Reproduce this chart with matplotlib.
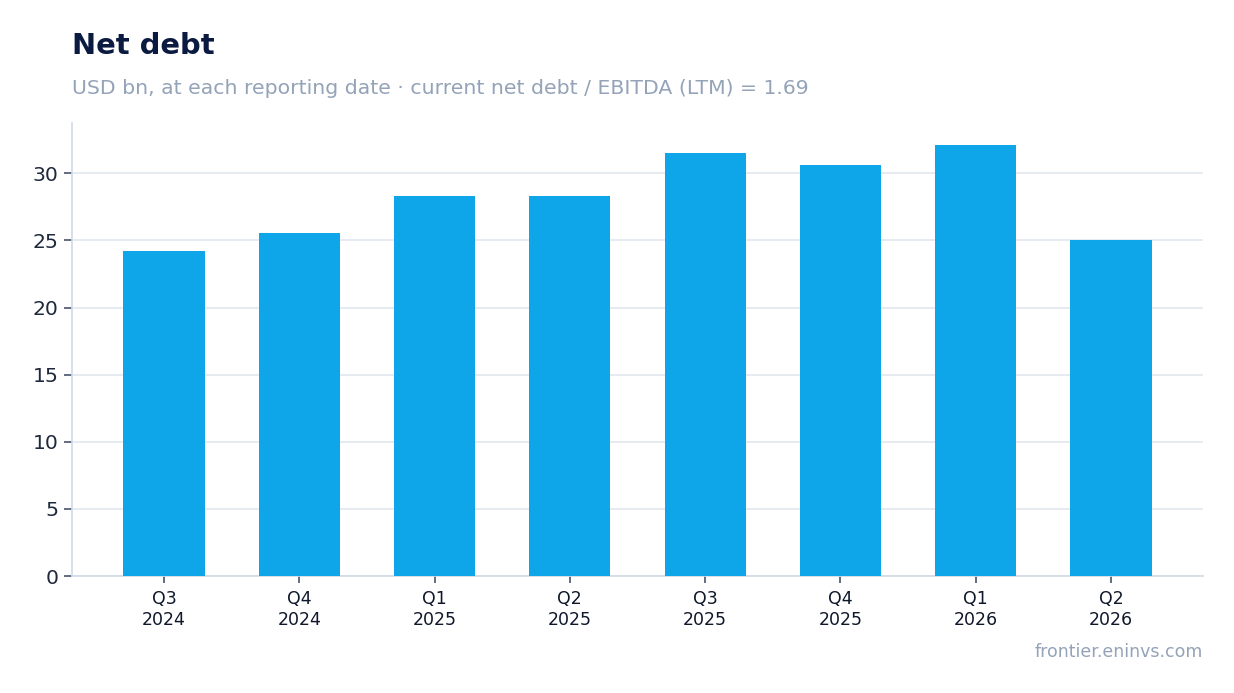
import matplotlib
matplotlib.use("Agg")
import matplotlib.pyplot as plt

categories = ["Q3\n2024", "Q4\n2024", "Q1\n2025", "Q2\n2025", "Q3\n2025", "Q4\n2025", "Q1\n2026", "Q2\n2026"]
net_debt = [24.23, 25.57, 28.34, 28.34, 31.54, 30.65, 32.14, 25.05]
yticks = [0, 5, 10, 15, 20, 25, 30]

plt.rcParams['font.family'] = ['DejaVu Sans']

W, H = 1234, 693
fig = plt.figure(figsize=(W / 100, H / 100), dpi=100)
ax = fig.add_axes([72 / W, 1 - 576 / H, (1203 - 72) / W, (576 - 123) / H])

x = list(range(len(categories)))
ax.bar(x, net_debt, width=0.6, color="#0ea5e9", zorder=3)

ax.set_xticks(x)
ax.set_xticklabels(categories, fontsize=12.5, color="#0f172a")
ax.set_yticks(yticks)
ax.tick_params(axis="y", labelsize=14.7, labelcolor="#1e293b", color="#475569", length=6, width=1.2)
ax.tick_params(axis="x", color="#475569", length=5, width=1.2, pad=5)

ax.grid(axis="y", color="#e2e8f0", linewidth=1.2, zorder=0)
ax.set_axisbelow(True)
for s in ["top", "right"]:
    ax.spines[s].set_visible(False)
for s in ["left", "bottom"]:
    ax.spines[s].set_color("#d1d9e6")
    ax.spines[s].set_linewidth(1.2)

fig.text(72 / W, 1 - 54 / H, "Net debt", fontsize=20.9, fontweight="bold", color="#0b1a40", ha="left", va="baseline")
fig.text(72 / W, 1 - 94 / H, "USD bn, at each reporting date · current net debt / EBITDA (LTM) = 1.69",
         fontsize=14.7, color="#94a3b8", ha="left", va="baseline")
fig.text(1203 / W, 1 - 657 / H, "frontier.eninvs.com", fontsize=12.5, color="#94a3b8", ha="right", va="baseline")

fig.savefig("out.png", dpi=100)
